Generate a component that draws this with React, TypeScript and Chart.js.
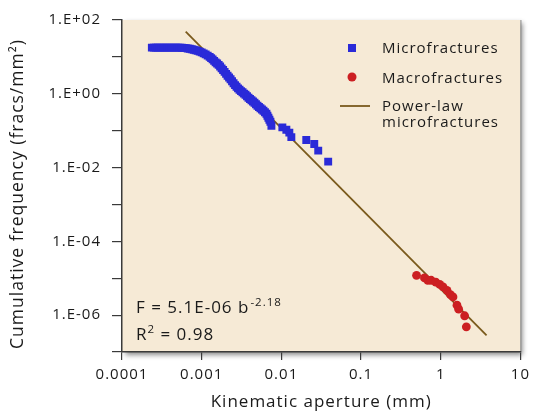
import { useEffect, useRef } from 'react';
import { Chart, registerables } from 'chart.js';

Chart.register(...registerables);

// Microfractures (blue squares): aperture (mm) and cumulative frequency (fracs/mm²)
const microAperture = [
  2.37e-4, 2.51e-4, 2.66e-4, 2.82e-4, 2.99e-4, 3.16e-4, 3.35e-4, 3.55e-4, 3.76e-4, 3.98e-4,
  4.22e-4, 4.47e-4, 4.73e-4, 5.01e-4, 5.31e-4, 5.62e-4, 5.96e-4, 6.31e-4, 6.68e-4, 7.08e-4,
  7.5e-4, 7.94e-4, 8.41e-4, 8.91e-4, 9.44e-4, 1.0e-3, 1.059e-3, 1.122e-3, 1.189e-3, 1.259e-3,
  1.314e-3, 1.372e-3, 1.433e-3, 1.496e-3, 1.562e-3, 1.632e-3, 1.703e-3, 1.778e-3, 1.857e-3, 1.939e-3,
  2.024e-3, 2.113e-3, 2.207e-3, 2.304e-3, 2.405e-3, 2.512e-3, 2.623e-3, 2.738e-3, 2.858e-3, 2.985e-3,
  3.117e-3, 3.255e-3, 3.398e-3, 3.548e-3, 3.705e-3, 3.868e-3, 4.039e-3, 4.217e-3, 4.403e-3, 4.597e-3,
  4.8e-3, 5.012e-3, 5.233e-3, 5.464e-3, 5.705e-3, 5.957e-3, 6.219e-3, 6.494e-3, 6.683e-3, 6.879e-3,
  7.079e-3, 7.286e-3, 7.499e-3, 1.029e-2, 1.155e-2, 1.259e-2, 1.334e-2, 2.054e-2, 2.586e-2, 2.901e-2,
  3.868e-2,
];
const microFrequency = [
  17.8, 17.8, 17.8, 17.8, 17.8, 17.8, 17.8, 17.8, 17.8, 17.8,
  17.8, 17.8, 17.8, 17.8, 17.8, 17.6, 17.5, 17.3, 16.97, 16.66,
  16.15, 15.65, 15.08, 14.53, 13.91, 13.23, 12.43, 11.68, 10.84, 10.0,
  9.28, 8.56, 7.8, 7.1, 6.59, 6.08, 5.47, 4.89, 4.4, 3.93,
  3.47, 3.07, 2.76, 2.47, 2.18, 1.92, 1.72, 1.55, 1.4, 1.28,
  1.18, 1.1, 1.01, 0.94, 0.856, 0.78, 0.724, 0.667, 0.619, 0.571,
  0.52, 0.474, 0.44, 0.406, 0.376, 0.347, 0.316, 0.288, 0.254, 0.225,
  0.198, 0.175, 0.136, 0.123, 0.106, 0.0883, 0.0667, 0.0561, 0.0437, 0.0288,
  0.0145,
];

// Macrofractures (red circles)
const macroAperture = [
  0.497, 0.625, 0.688, 0.757, 0.866, 0.972, 1.069, 1.199, 1.322, 1.425, 1.599, 1.679, 1.995, 2.095,
];
const macroFrequency = [
  1.2e-5, 1.02e-5, 8.8e-6, 8.8e-6, 7.8e-6, 6.8e-6, 5.8e-6, 4.7e-6, 3.6e-6, 3.1e-6, 1.86e-6, 1.45e-6,
  9.6e-7, 4.8e-7,
];

// Power-law fit F = 5.1E-06 b^-2.18 (end points of the drawn line)
const fitAperture = [6.3e-4, 3.76];
const fitFrequency = [48.4, 2.84e-7];

const xTickValues = [1e-4, 1e-3, 1e-2, 1e-1, 1, 10];
const xTickLabels = ['0.0001', '0.001', '0.01', '0.1', '1', '10'];
const yTickValues = [1e-7, 1e-6, 1e-5, 1e-4, 1e-3, 1e-2, 1e-1, 1, 10, 100];
const yTickLabels = ['', '1.E-06', '', '1.E-04', '', '1.E-02', '', '1.E+00', '', '1.E+02'];

const xTitle = 'Kinematic aperture (mm)';
const yTitle = 'Cumulative frequency (fracs/mm²)';
const legendLabels = ['Microfractures', 'Macrofractures', 'Power-law', 'microfractures'];
const equationMain = 'F = 5.1E-06 b';
const equationExp = '-2.18';
const r2Parts = ['R', '2', ' = 0.98'];

const FONT = '"Open Sans", "DejaVu Sans", sans-serif';
const BLUE = '#2a2ad8';
const RED = '#cc1f22';
const BROWN = '#7a5a1c';
const BG = '#f6ead6';
const AXIS = '#3a3a3a';
const TEXT = '#1a1a1a';

function pickLabel(values: number[], labels: string[], v: number) {
  let best = 0;
  let bestD = Infinity;
  values.forEach((t, i) => {
    const d = Math.abs(Math.log10(t) - Math.log10(v));
    if (d < bestD) {
      bestD = d;
      best = i;
    }
  });
  return bestD < 1e-6 ? labels[best] : '';
}

const spacingPlugin = {
  id: 'spacing',
  beforeUpdate(chart: any) {
    chart.ctx.letterSpacing = '1px';
  },
  beforeDraw(chart: any) {
    chart.ctx.letterSpacing = '1px';
  },
};

const backgroundPlugin = {
  id: 'plotBackground',
  beforeDraw(chart: any) {
    const { ctx, chartArea } = chart;
    const { left, top, right, bottom } = chartArea;
    ctx.save();
    ctx.shadowColor = 'rgba(0,0,0,0.45)';
    ctx.shadowBlur = 5;
    ctx.shadowOffsetX = 3;
    ctx.shadowOffsetY = 3;
    ctx.fillStyle = BG;
    ctx.fillRect(left, top, right - left, bottom - top);
    ctx.restore();
    ctx.save();
    ctx.strokeStyle = '#8c8c8c';
    ctx.lineWidth = 1;
    ctx.beginPath();
    ctx.moveTo(right + 0.5, top);
    ctx.lineTo(right + 0.5, bottom);
    ctx.stroke();
    ctx.restore();
  },
};

const overlayPlugin = {
  id: 'overlay',
  afterDraw(chart: any) {
    const { ctx, chartArea } = chart;
    ctx.save();
    ctx.letterSpacing = '1px';

    // y-axis title
    ctx.save();
    ctx.fillStyle = TEXT;
    ctx.font = `17.5px ${FONT}`;
    ctx.textAlign = 'center';
    ctx.textBaseline = 'middle';
    ctx.translate(18, (chartArea.top + chartArea.bottom) / 2 + 8);
    ctx.rotate(-Math.PI / 2);
    ctx.fillText(yTitle, 0, 0);
    ctx.restore();

    // legend
    ctx.fillStyle = BLUE;
    ctx.fillRect(348, 44, 8, 8);
    ctx.fillStyle = RED;
    ctx.beginPath();
    ctx.arc(352, 77, 4.5, 0, Math.PI * 2);
    ctx.fill();
    ctx.strokeStyle = BROWN;
    ctx.lineWidth = 1.8;
    ctx.beginPath();
    ctx.moveTo(340, 106);
    ctx.lineTo(370, 106);
    ctx.stroke();

    ctx.fillStyle = TEXT;
    ctx.textAlign = 'left';
    ctx.textBaseline = 'alphabetic';
    ctx.font = `15px ${FONT}`;
    ctx.fillText(legendLabels[0], 382, 53);
    ctx.fillText(legendLabels[1], 382, 83);
    ctx.fillText(legendLabels[2], 382, 111);
    ctx.fillText(legendLabels[3], 382, 127);

    // equation
    ctx.font = `17px ${FONT}`;
    ctx.fillText(equationMain, 136, 313);
    const w = ctx.measureText(equationMain).width;
    ctx.font = `11.5px ${FONT}`;
    ctx.fillText(equationExp, 136 + w + 1, 306);

    ctx.font = `17px ${FONT}`;
    ctx.fillText(r2Parts[0], 136, 340);
    const wr = ctx.measureText(r2Parts[0]).width;
    ctx.font = `11.5px ${FONT}`;
    ctx.fillText(r2Parts[1], 136 + wr, 333);
    const w2 = ctx.measureText(r2Parts[1]).width;
    ctx.font = `17px ${FONT}`;
    ctx.fillText(r2Parts[2], 136 + wr + w2, 340);
    ctx.restore();
  },
};

export default function App() {
  const canvasRef = useRef<HTMLCanvasElement | null>(null);

  useEffect(() => {
    const canvas = canvasRef.current;
    if (!canvas) return;

    const micro = microAperture.map((x, i) => ({ x, y: microFrequency[i] }));
    const macro = macroAperture.map((x, i) => ({ x, y: macroFrequency[i] }));
    const fit = fitAperture.map((x, i) => ({ x, y: fitFrequency[i] }));

    const chart = new Chart(canvas, {
      type: 'scatter',
      data: {
        datasets: [
          {
            label: 'Microfractures',
            data: micro,
            pointStyle: 'rect',
            pointRadius: 5.6,
            pointHoverRadius: 5.6,
            backgroundColor: BLUE,
            borderColor: BLUE,
            borderWidth: 0,
          },
          {
            label: 'Macrofractures',
            data: macro,
            pointStyle: 'circle',
            pointRadius: 4.4,
            pointHoverRadius: 4.4,
            backgroundColor: RED,
            borderColor: RED,
            borderWidth: 0,
          },
          {
            label: 'Power-law microfractures',
            data: fit,
            showLine: true,
            pointRadius: 0,
            borderColor: BROWN,
            borderWidth: 1.8,
            fill: false,
          },
        ],
      },
      options: {
        responsive: false,
        animation: false,
        devicePixelRatio: 1,
        layout: { padding: { top: 19, right: 14, left: 0, bottom: 0 } },
        plugins: {
          legend: { display: false },
          tooltip: { enabled: false },
        },
        scales: {
          x: {
            type: 'logarithmic',
            min: 1e-4,
            max: 10,
            afterBuildTicks: (scale: any) => {
              scale.ticks = xTickValues.map((v) => ({ value: v }));
            },
            afterFit: (scale: any) => {
              scale.height = 60;
            },
            ticks: {
              autoSkip: false,
              maxRotation: 0,
              padding: 6,
              color: TEXT,
              font: { family: FONT, size: 15 },
              callback: (v: any) => pickLabel(xTickValues, xTickLabels, Number(v)),
            },
            grid: { drawOnChartArea: false, drawTicks: true, tickLength: 8, color: AXIS, lineWidth: 1.2 },
            border: { display: true, color: AXIS, width: 1.5 },
            title: {
              display: true,
              text: xTitle,
              color: TEXT,
              font: { family: FONT, size: 17 },
              padding: { top: 0, bottom: 0 },
            },
          },
          y: {
            type: 'logarithmic',
            min: 1e-7,
            max: 100,
            afterBuildTicks: (scale: any) => {
              scale.ticks = yTickValues.map((v) => ({ value: v }));
            },
            afterFit: (scale: any) => {
              scale.width = 122;
            },
            ticks: {
              autoSkip: false,
              padding: 11,
              color: TEXT,
              font: { family: FONT, size: 15 },
              callback: (v: any) => pickLabel(yTickValues, yTickLabels, Number(v)),
            },
            grid: { drawOnChartArea: false, drawTicks: true, tickLength: 10, color: AXIS, lineWidth: 1.2 },
            border: { display: true, color: AXIS, width: 1.5 },
            title: { display: false },
          },
        },
      },
      plugins: [spacingPlugin, backgroundPlugin, overlayPlugin],
    });

    return () => chart.destroy();
  }, []);

  return (
    <div style={{ position: 'absolute', left: 0, top: 0, width: 536, height: 412, background: '#ffffff' }}>
      <canvas ref={canvasRef} width={536} height={412} style={{ display: 'block' }} />
    </div>
  );
}
